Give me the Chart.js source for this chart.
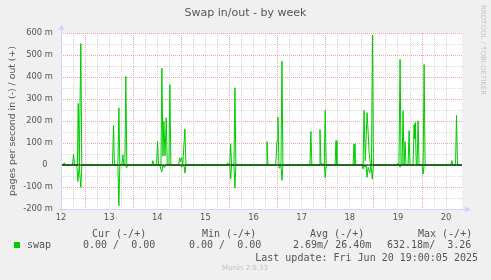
<!DOCTYPE html>
<html>
<head>
<meta charset="utf-8">
<script src="https://cdn.jsdelivr.net/npm/chart.js@4.4.1/dist/chart.umd.min.js"></script>
<style>
  html, body { margin: 0; padding: 0; background: #f0f0f0; }
  #wrap { width: 491px; height: 280px; }
</style>
</head>
<body>
<div id="wrap"><canvas id="swapChart" width="491" height="280"></canvas></div>
<script>
// x = day of June (label sits at noon), y = pages per second in milli-units
var swapOut = [
  [12.00, 0], [12.05, 0], [12.067, 10], [12.085, 0],
  [12.24, 0], [12.26, 50], [12.28, 0], [12.34, 0], [12.358, 280], [12.38, 0], [12.412, 552], [12.432, 0],
  [13.07, 0], [13.091, 180], [13.11, 0], [13.182, 0], [13.202, 260], [13.222, 0],
  [13.265, 0], [13.285, 46], [13.305, 0], [13.327, 0], [13.347, 403], [13.367, 0],
  [13.888, 0], [13.908, 20], [13.928, 0], [13.986, 0], [14.006, 107], [14.026, 0],
  [14.076, 0], [14.096, 440], [14.117, 40], [14.137, 198], [14.161, 42], [14.187, 215], [14.207, 0],
  [14.242, 0], [14.262, 365], [14.282, 0],
  [14.444, 0], [14.464, 32], [14.484, 15], [14.505, 35], [14.53, 5], [14.574, 164], [14.595, 0],
  [15.442, 0], [15.462, 10], [15.482, 0], [15.504, 0], [15.524, 96], [15.544, 0],
  [15.593, 0], [15.613, 351], [15.633, 0],
  [16.259, 0], [16.279, 106], [16.299, 0],
  [16.46, 0], [16.487, 110], [16.507, 218], [16.527, 0], [16.57, 0], [16.59, 472], [16.61, 0],
  [17.171, 0], [17.191, 152], [17.211, 0],
  [17.36, 0], [17.38, 161], [17.40, 5], [17.45, 5], [17.469, 0], [17.489, 248], [17.509, 0],
  [17.693, 0], [17.713, 111], [17.733, 0],
  [18.067, 0], [18.087, 96], [18.107, 0],
  [18.275, 0], [18.295, 248], [18.32, 20], [18.358, 238], [18.38, 150], [18.40, 60], [18.425, 10],
  [18.45, 0], [18.47, 590], [18.49, 0],
  [18.976, 0], [18.996, 7], [19.02, 0], [19.044, 480], [19.064, 0], [19.085, 0], [19.106, 247],
  [19.127, 0], [19.148, 106], [19.168, 0], [19.21, 0], [19.231, 156], [19.25, 0],
  [19.314, 0], [19.335, 184], [19.347, 120], [19.36, 193], [19.38, 0], [19.398, 0], [19.418, 201],
  [19.438, 0], [19.523, 0], [19.543, 457], [19.563, 0],
  [20.099, 0], [20.119, 20], [20.139, 0], [20.196, 0], [20.216, 225], [20.236, 0], [20.33, 0]
];

var swapIn = [
  [12.00, 0], [12.33, 0], [12.349, -75], [12.38, -5], [12.412, -102], [12.432, 0],
  [13.182, 0], [13.202, -185], [13.222, 0], [13.342, 0], [13.362, -13], [13.382, 0],
  [14.055, 0], [14.075, -20], [14.096, -30], [14.117, 0], [14.14, -10], [14.16, 0],
  [14.485, 0], [14.505, -10], [14.53, 0], [14.554, 0], [14.574, -37], [14.595, 0],
  [15.504, 0], [15.524, -64], [15.544, 0], [15.593, 0], [15.613, -105], [15.633, 0],
  [16.518, 0], [16.538, -15], [16.57, 0], [16.59, -70], [16.61, 0],
  [17.469, 0], [17.489, -58], [17.509, 0],
  [18.254, 0], [18.274, -18], [18.295, 0], [18.316, -10], [18.337, 0], [18.358, -56], [18.38, -10],
  [18.414, -35], [18.44, 0], [18.466, -64], [18.49, 0],
  [19.024, 0], [19.044, -10], [19.064, 0],
  [19.502, 0], [19.522, -41], [19.543, 0],
  [20.33, 0]
];

var zeroLine = [[12.00, 0], [20.33, 0]];

var legendHeads = ["Cur (-/+)", "Min (-/+)", "Avg (-/+)", "Max (-/+)"];
var legendVals = ["0.00 /  0.00", "0.00 /  0.00", "2.69m/ 26.40m", "632.18m/  3.26"];
var lastUpdate = "Last update: Fri Jun 20 19:00:05 2025";

function toXY(list) {
  return list.map(function(p) { return { x: p[0], y: p[1] }; });
}

var textColor = "#555555";
var monoFont = "10px 'DejaVu Sans Mono', monospace";

var munin = {
  id: "munin",
  beforeDraw: function(chart) {
    var ctx = chart.ctx, a = chart.chartArea;
    ctx.save();
    ctx.fillStyle = "#f0f0f0";
    ctx.fillRect(0, 0, chart.width, chart.height);
    ctx.fillStyle = "#ffffff";
    ctx.fillRect(a.left, a.top, a.right - a.left, a.bottom - a.top);
    ctx.restore();
  },
  afterDraw: function(chart) {
    var ctx = chart.ctx, a = chart.chartArea;
    ctx.save();
    // axes with arrows
    ctx.strokeStyle = "#cfd6f8";
    ctx.fillStyle = "#cfd6f8";
    ctx.lineWidth = 1;
    ctx.beginPath();
    ctx.moveTo(a.left + 0.5, a.bottom + 3);
    ctx.lineTo(a.left + 0.5, a.top - 4);
    ctx.moveTo(a.left - 3, a.bottom + 0.5);
    ctx.lineTo(a.right + 4, a.bottom + 0.5);
    ctx.stroke();
    ctx.beginPath();
    ctx.moveTo(a.left - 2.5, a.top - 3);
    ctx.lineTo(a.left + 3.5, a.top - 3);
    ctx.lineTo(a.left + 0.5, a.top - 9);
    ctx.closePath();
    ctx.fill();
    ctx.beginPath();
    ctx.moveTo(a.right + 3, a.bottom - 2.5);
    ctx.lineTo(a.right + 3, a.bottom + 3.5);
    ctx.lineTo(a.right + 9, a.bottom + 0.5);
    ctx.closePath();
    ctx.fill();

    // title
    ctx.fillStyle = textColor;
    ctx.font = "11px 'DejaVu Sans', sans-serif";
    ctx.textAlign = "center";
    ctx.textBaseline = "middle";
    ctx.fillText("Swap in/out - by week", 245.5, 13);

    // vertical axis title
    ctx.save();
    ctx.translate(12.5, (a.top + a.bottom) / 2);
    ctx.rotate(-Math.PI / 2);
    ctx.font = "9.3px 'DejaVu Sans', sans-serif";
    ctx.fillText("pages per second in (-) / out (+)", 0, 0);
    ctx.restore();

    // watermark on the right
    ctx.save();
    ctx.translate(483, 5);
    ctx.rotate(Math.PI / 2);
    ctx.fillStyle = "#c4c4c4";
    ctx.font = "7px 'DejaVu Sans', sans-serif";
    ctx.textAlign = "left";
    ctx.fillText("RRDTOOL / TOBI OETIKER", 0, 0);
    ctx.restore();

    // legend table
    ctx.font = monoFont;
    ctx.textAlign = "left";
    ctx.fillStyle = textColor;
    var headX = [92, 202, 310, 418];
    var valX = [83, 189, 293, 387];
    legendHeads.forEach(function(h, i) { ctx.fillText(h, headX[i], 234); });
    ctx.fillStyle = "#00cc00";
    ctx.fillRect(14, 242, 6, 6);
    ctx.fillStyle = textColor;
    ctx.fillText("swap", 27, 245.5);
    legendVals.forEach(function(v, i) { ctx.fillText(v, valX[i], 245.5); });
    ctx.textAlign = "right";
    ctx.fillText(lastUpdate, 478, 258);

    ctx.textAlign = "center";
    ctx.fillStyle = "#c0c0c0";
    ctx.font = "7px 'DejaVu Sans', sans-serif";
    ctx.fillText("Munin 2.0.33", 245, 268.5);
    ctx.restore();
  }
};

function isWhole(v) { return Math.abs(v - Math.round(v)) < 1e-6; }
function isHalf(v) { return Math.abs(v - Math.floor(v) - 0.5) < 1e-6; }

new Chart(document.getElementById("swapChart"), {
  type: "line",
  data: {
    datasets: [
      { label: "zero", data: toXY(zeroLine), borderColor: "#000000", borderWidth: 1, pointRadius: 0 },
      { label: "out", data: toXY(swapOut), borderColor: "#00cc00", borderWidth: 1, pointRadius: 0, tension: 0 },
      { label: "in", data: toXY(swapIn), borderColor: "#00cc00", borderWidth: 1, pointRadius: 0, tension: 0 }
    ]
  },
  options: {
    responsive: false,
    animation: false,
    devicePixelRatio: 1,
    layout: { padding: { top: 33, right: 29, left: 0, bottom: 0 } },
    plugins: { legend: { display: false }, tooltip: { enabled: false }, title: { display: false } },
    scales: {
      x: {
        type: "linear",
        min: 12,
        max: 20.33,
        afterFit: function(s) { s.height = 71; },
        border: { display: false, dash: [1, 1] },
        grid: {
          drawTicks: false,
          lineWidth: 1,
          color: function(c) {
            var v = c.tick.value;
            if (isHalf(v)) return "#f2a6a6";
            if (Math.abs(v * 4 - Math.round(v * 4)) < 1e-6) return "#d8d8d8";
            return "rgba(0,0,0,0)";
          }
        },
        ticks: {
          stepSize: 0.25,
          autoSkip: false,
          maxRotation: 0,
          padding: 4,
          color: textColor,
          font: { family: "'DejaVu Sans'", size: 8.4 },
          callback: function(v) { return isWhole(v) ? String(Math.round(v)) : ""; }
        }
      },
      y: {
        min: -200,
        max: 600,
        afterFit: function(s) { s.width = 61; },
        border: { display: false, dash: [1, 1] },
        grid: {
          drawTicks: false,
          lineWidth: 1,
          color: function(c) { return c.tick.value % 100 === 0 ? "#f2a6a6" : "#d8d8d8"; }
        },
        ticks: {
          stepSize: 50,
          autoSkip: false,
          padding: 8,
          color: textColor,
          font: { family: "'DejaVu Sans'", size: 8.4 },
          callback: function(v) {
            if (v % 100 !== 0) return "";
            return v === 0 ? "0  " : v + " m";
          }
        }
      }
    }
  },
  plugins: [munin]
});
</script>
</body>
</html>
